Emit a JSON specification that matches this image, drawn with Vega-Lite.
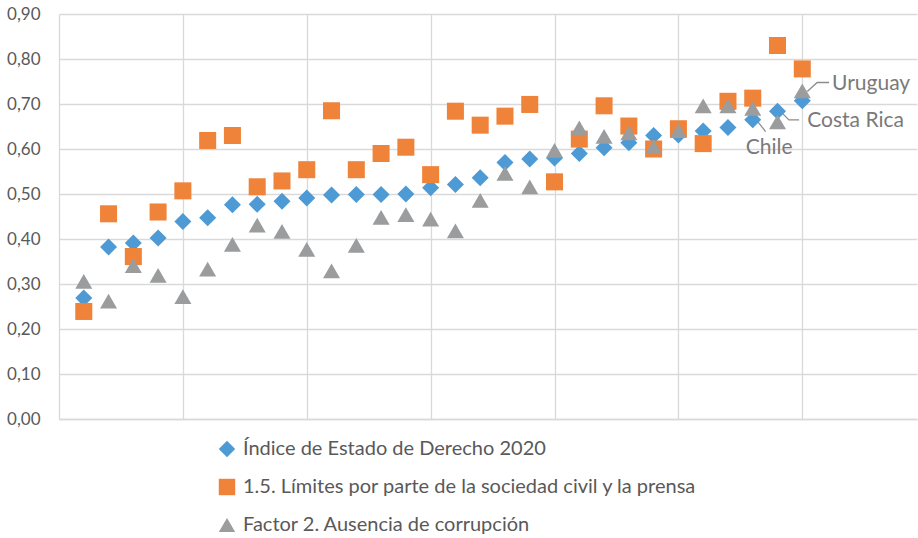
{
  "$schema": "https://vega.github.io/schema/vega-lite/v6.json",
  "width": 858,
  "height": 405,
  "autosize": {"type": "none"},
  "padding": {"left": 59, "top": 14, "right": 1, "bottom": 119},
  "background": "white",
  "datasets": {
    "pts": [
      {"x": 1, "serie": "Índice de Estado de Derecho 2020", "v": 0.269},
      {"x": 2, "serie": "Índice de Estado de Derecho 2020", "v": 0.382},
      {"x": 3, "serie": "Índice de Estado de Derecho 2020", "v": 0.391},
      {"x": 4, "serie": "Índice de Estado de Derecho 2020", "v": 0.402},
      {"x": 5, "serie": "Índice de Estado de Derecho 2020", "v": 0.439},
      {"x": 6, "serie": "Índice de Estado de Derecho 2020", "v": 0.447},
      {"x": 7, "serie": "Índice de Estado de Derecho 2020", "v": 0.476},
      {"x": 8, "serie": "Índice de Estado de Derecho 2020", "v": 0.477},
      {"x": 9, "serie": "Índice de Estado de Derecho 2020", "v": 0.484},
      {"x": 10, "serie": "Índice de Estado de Derecho 2020", "v": 0.491},
      {"x": 11, "serie": "Índice de Estado de Derecho 2020", "v": 0.498},
      {"x": 12, "serie": "Índice de Estado de Derecho 2020", "v": 0.499},
      {"x": 13, "serie": "Índice de Estado de Derecho 2020", "v": 0.499},
      {"x": 14, "serie": "Índice de Estado de Derecho 2020", "v": 0.500},
      {"x": 15, "serie": "Índice de Estado de Derecho 2020", "v": 0.514},
      {"x": 16, "serie": "Índice de Estado de Derecho 2020", "v": 0.521},
      {"x": 17, "serie": "Índice de Estado de Derecho 2020", "v": 0.536},
      {"x": 18, "serie": "Índice de Estado de Derecho 2020", "v": 0.570},
      {"x": 19, "serie": "Índice de Estado de Derecho 2020", "v": 0.578},
      {"x": 20, "serie": "Índice de Estado de Derecho 2020", "v": 0.580},
      {"x": 21, "serie": "Índice de Estado de Derecho 2020", "v": 0.590},
      {"x": 22, "serie": "Índice de Estado de Derecho 2020", "v": 0.603},
      {"x": 23, "serie": "Índice de Estado de Derecho 2020", "v": 0.614},
      {"x": 24, "serie": "Índice de Estado de Derecho 2020", "v": 0.630},
      {"x": 25, "serie": "Índice de Estado de Derecho 2020", "v": 0.631},
      {"x": 26, "serie": "Índice de Estado de Derecho 2020", "v": 0.640},
      {"x": 27, "serie": "Índice de Estado de Derecho 2020", "v": 0.648},
      {"x": 28, "serie": "Índice de Estado de Derecho 2020", "v": 0.665},
      {"x": 29, "serie": "Índice de Estado de Derecho 2020", "v": 0.684},
      {"x": 30, "serie": "Índice de Estado de Derecho 2020", "v": 0.707},
      {"x": 1, "serie": "1.5. Límites por parte de la sociedad civil y la prensa", "v": 0.239},
      {"x": 2, "serie": "1.5. Límites por parte de la sociedad civil y la prensa", "v": 0.456},
      {"x": 3, "serie": "1.5. Límites por parte de la sociedad civil y la prensa", "v": 0.361},
      {"x": 4, "serie": "1.5. Límites por parte de la sociedad civil y la prensa", "v": 0.460},
      {"x": 5, "serie": "1.5. Límites por parte de la sociedad civil y la prensa", "v": 0.507},
      {"x": 6, "serie": "1.5. Límites por parte de la sociedad civil y la prensa", "v": 0.619},
      {"x": 7, "serie": "1.5. Límites por parte de la sociedad civil y la prensa", "v": 0.630},
      {"x": 8, "serie": "1.5. Límites por parte de la sociedad civil y la prensa", "v": 0.516},
      {"x": 9, "serie": "1.5. Límites por parte de la sociedad civil y la prensa", "v": 0.529},
      {"x": 10, "serie": "1.5. Límites por parte de la sociedad civil y la prensa", "v": 0.554},
      {"x": 11, "serie": "1.5. Límites por parte de la sociedad civil y la prensa", "v": 0.685},
      {"x": 12, "serie": "1.5. Límites por parte de la sociedad civil y la prensa", "v": 0.554},
      {"x": 13, "serie": "1.5. Límites por parte de la sociedad civil y la prensa", "v": 0.590},
      {"x": 14, "serie": "1.5. Límites por parte de la sociedad civil y la prensa", "v": 0.604},
      {"x": 15, "serie": "1.5. Límites por parte de la sociedad civil y la prensa", "v": 0.543},
      {"x": 16, "serie": "1.5. Límites por parte de la sociedad civil y la prensa", "v": 0.684},
      {"x": 17, "serie": "1.5. Límites por parte de la sociedad civil y la prensa", "v": 0.653},
      {"x": 18, "serie": "1.5. Límites por parte de la sociedad civil y la prensa", "v": 0.673},
      {"x": 19, "serie": "1.5. Límites por parte de la sociedad civil y la prensa", "v": 0.699},
      {"x": 20, "serie": "1.5. Límites por parte de la sociedad civil y la prensa", "v": 0.527},
      {"x": 21, "serie": "1.5. Límites por parte de la sociedad civil y la prensa", "v": 0.622},
      {"x": 22, "serie": "1.5. Límites por parte de la sociedad civil y la prensa", "v": 0.696},
      {"x": 23, "serie": "1.5. Límites por parte de la sociedad civil y la prensa", "v": 0.651},
      {"x": 24, "serie": "1.5. Límites por parte de la sociedad civil y la prensa", "v": 0.600},
      {"x": 25, "serie": "1.5. Límites por parte de la sociedad civil y la prensa", "v": 0.645},
      {"x": 26, "serie": "1.5. Límites por parte de la sociedad civil y la prensa", "v": 0.612},
      {"x": 27, "serie": "1.5. Límites por parte de la sociedad civil y la prensa", "v": 0.706},
      {"x": 28, "serie": "1.5. Límites por parte de la sociedad civil y la prensa", "v": 0.713},
      {"x": 29, "serie": "1.5. Límites por parte de la sociedad civil y la prensa", "v": 0.830},
      {"x": 30, "serie": "1.5. Límites por parte de la sociedad civil y la prensa", "v": 0.778},
      {"x": 1, "serie": "Factor 2. Ausencia de corrupción", "v": 0.306},
      {"x": 2, "serie": "Factor 2. Ausencia de corrupción", "v": 0.262},
      {"x": 3, "serie": "Factor 2. Ausencia de corrupción", "v": 0.341},
      {"x": 4, "serie": "Factor 2. Ausencia de corrupción", "v": 0.319},
      {"x": 5, "serie": "Factor 2. Ausencia de corrupción", "v": 0.272},
      {"x": 6, "serie": "Factor 2. Ausencia de corrupción", "v": 0.333},
      {"x": 7, "serie": "Factor 2. Ausencia de corrupción", "v": 0.388},
      {"x": 8, "serie": "Factor 2. Ausencia de corrupción", "v": 0.431},
      {"x": 9, "serie": "Factor 2. Ausencia de corrupción", "v": 0.417},
      {"x": 10, "serie": "Factor 2. Ausencia de corrupción", "v": 0.377},
      {"x": 11, "serie": "Factor 2. Ausencia de corrupción", "v": 0.329},
      {"x": 12, "serie": "Factor 2. Ausencia de corrupción", "v": 0.386},
      {"x": 13, "serie": "Factor 2. Ausencia de corrupción", "v": 0.448},
      {"x": 14, "serie": "Factor 2. Ausencia de corrupción", "v": 0.454},
      {"x": 15, "serie": "Factor 2. Ausencia de corrupción", "v": 0.444},
      {"x": 16, "serie": "Factor 2. Ausencia de corrupción", "v": 0.418},
      {"x": 17, "serie": "Factor 2. Ausencia de corrupción", "v": 0.486},
      {"x": 18, "serie": "Factor 2. Ausencia de corrupción", "v": 0.546},
      {"x": 19, "serie": "Factor 2. Ausencia de corrupción", "v": 0.516},
      {"x": 20, "serie": "Factor 2. Ausencia de corrupción", "v": 0.597},
      {"x": 21, "serie": "Factor 2. Ausencia de corrupción", "v": 0.647},
      {"x": 22, "serie": "Factor 2. Ausencia de corrupción", "v": 0.628},
      {"x": 23, "serie": "Factor 2. Ausencia de corrupción", "v": 0.636},
      {"x": 24, "serie": "Factor 2. Ausencia de corrupción", "v": 0.605},
      {"x": 25, "serie": "Factor 2. Ausencia de corrupción", "v": 0.641},
      {"x": 26, "serie": "Factor 2. Ausencia de corrupción", "v": 0.696},
      {"x": 27, "serie": "Factor 2. Ausencia de corrupción", "v": 0.696},
      {"x": 28, "serie": "Factor 2. Ausencia de corrupción", "v": 0.690},
      {"x": 29, "serie": "Factor 2. Ausencia de corrupción", "v": 0.660},
      {"x": 30, "serie": "Factor 2. Ausencia de corrupción", "v": 0.729}
    ],
    "labels": [
      {"x": 31.2, "v": 0.7316, "t": "Uruguay"},
      {"x": 30.2, "v": 0.650, "t": "Costa Rica"},
      {"x": 27.72, "v": 0.5885, "t": "Chile"}
    ],
    "leaders": [
      {"g": "U", "o": 1, "x": 30.2, "v": 0.7278},
      {"g": "U", "o": 2, "x": 30.6, "v": 0.7478},
      {"g": "U", "o": 3, "x": 31.08, "v": 0.7478},
      {"g": "C", "o": 1, "x": 29.19, "v": 0.6797},
      {"g": "C", "o": 2, "x": 29.46, "v": 0.6648},
      {"g": "C", "o": 3, "x": 29.87, "v": 0.6648},
      {"g": "H", "o": 1, "x": 28.05, "v": 0.6708},
      {"g": "H", "o": 2, "x": 28.52, "v": 0.6388}
    ]
  },
  "layer": [
    {
      "data": {"name": "leaders"},
      "mark": {"type": "line", "color": "#8C8C8C", "strokeWidth": 1.3},
      "encoding": {
        "x": {"field": "x", "type": "quantitative"},
        "y": {"field": "v", "type": "quantitative"},
        "detail": {"field": "g"},
        "order": {"field": "o", "type": "quantitative"}
      }
    },
    {
      "data": {"name": "pts"},
      "mark": {"type": "point", "filled": true, "opacity": 1, "size": 290},
      "encoding": {
        "x": {
          "field": "x", "type": "quantitative",
          "scale": {"domain": [0, 34.63], "nice": false, "zero": false},
          "axis": {"values": [5, 10, 15, 20, 25, 30], "labels": false, "ticks": false, "title": null, "grid": true}
        },
        "y": {
          "field": "v", "type": "quantitative",
          "scale": {"domain": [0, 0.9], "nice": false},
          "axis": {
            "values": [0, 0.1, 0.2, 0.3, 0.4, 0.5, 0.6, 0.7, 0.8, 0.9],
            "labelExpr": "replace(format(datum.value, '.2f'), '.', ',')",
            "ticks": false, "title": null, "grid": true, "labelPadding": 19
          }
        },
        "color": {
          "field": "serie", "type": "nominal",
          "scale": {
            "domain": ["Índice de Estado de Derecho 2020", "1.5. Límites por parte de la sociedad civil y la prensa", "Factor 2. Ausencia de corrupción"],
            "range": ["#4E9AD5", "#F0833A", "#9A9C9D"]
          },
          "legend": {
            "title": null, "orient": "none", "legendX": 158, "legendY": 425,
            "symbolSize": 270, "labelFontSize": 20, "labelFont": "Lato", "labelColor": "#595959",
            "rowPadding": 18, "labelOffset": 6, "symbolStrokeWidth": 0, "labelLimit": 0
          }
        },
        "shape": {
          "field": "serie", "type": "nominal",
          "scale": {
            "domain": ["Índice de Estado de Derecho 2020", "1.5. Límites por parte de la sociedad civil y la prensa", "Factor 2. Ausencia de corrupción"],
            "range": ["diamond", "square", "triangle-up"]
          },
          "legend": null
        }
      }
    },
    {
      "data": {"name": "labels"},
      "mark": {"type": "text", "align": "left", "baseline": "alphabetic", "font": "Lato", "fontSize": 21, "color": "#7A7A7A"},
      "encoding": {
        "x": {"field": "x", "type": "quantitative"},
        "y": {"field": "v", "type": "quantitative"},
        "text": {"field": "t"}
      }
    }
  ],
  "config": {
    "view": {"stroke": null},
    "font": "Lato",
    "axis": {
      "gridColor": "#D9D9D9", "gridWidth": 1.3,
      "domainColor": "#D9D9D9", "domainWidth": 1.3,
      "labelFont": "Lato", "labelFontSize": 17, "labelColor": "#595959"
    }
  }
}
